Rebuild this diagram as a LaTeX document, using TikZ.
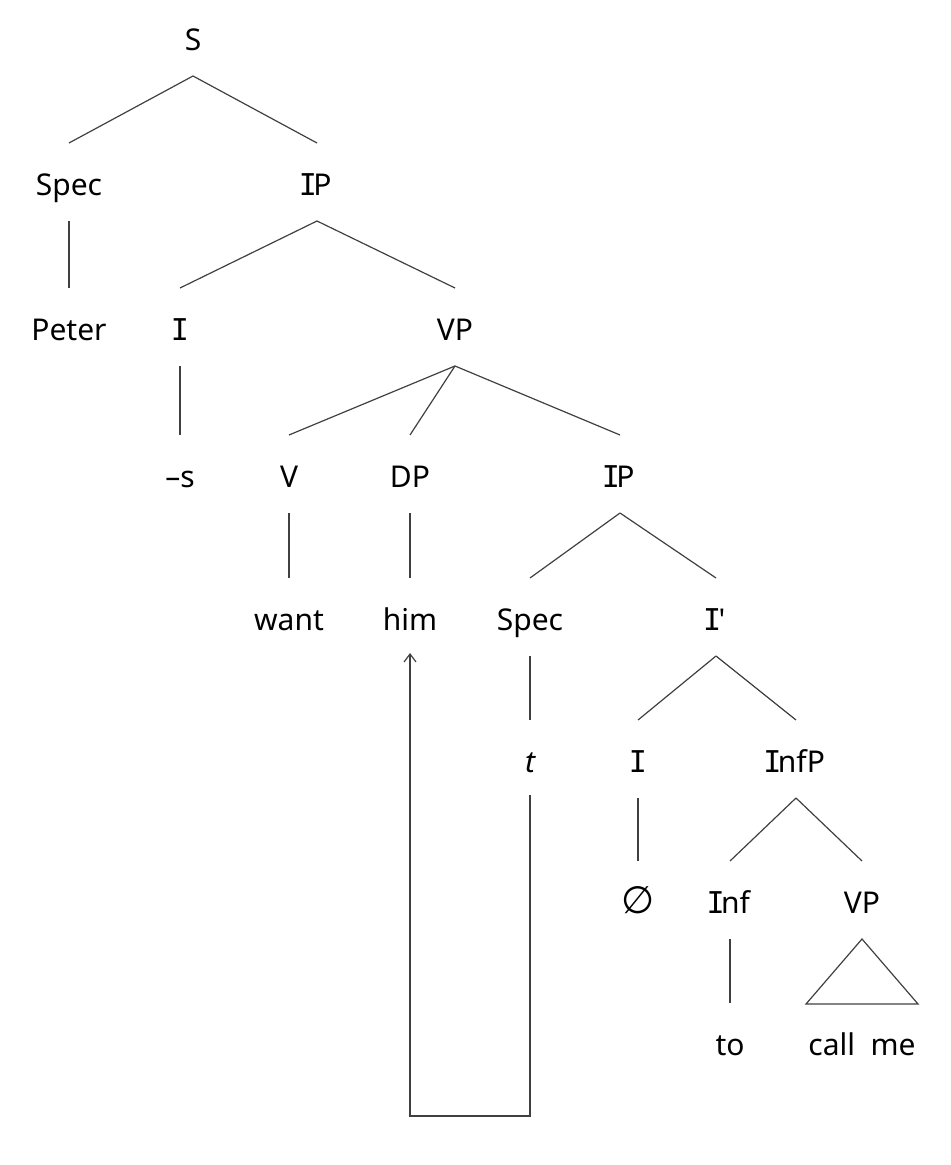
\documentclass[tikz,border=0pt]{standalone}
\usepackage{fontspec}
\usetikzlibrary{arrows.meta}
\setmainfont{Noto Sans}
\newfontfamily\symfont{DejaVu Sans}
\newfontfamily\monoI{DejaVu Sans Mono}
\newcommand\sI{\kern-1.8pt{\monoI I}\kern-1.8pt}
\newcommand\br[2]{\draw[branch] ([yshift=-18pt]#1.center) -- ([yshift=21pt]#2.center);}
\tikzset{
  lbl/.style={inner sep=0pt, text height=10.7pt, text depth=0pt, anchor=center,
    font=\fontsize{15}{18}\selectfont, text=black},
  branch/.style={draw=black!75, line width=0.6pt},
  movearrow/.style={draw=black!75, line width=0.6pt,
    -{Straight Barb[length=4pt,width=6pt]}}
}
\begin{document}
\begin{tikzpicture}[x=0.5pt,y=-0.5pt]
\useasboundingbox (0,0) rectangle (950,1165);
\node[lbl] (S) at (193,40) {S};
\node[lbl] (Spec1) at (69,185) {Spec};
\node[lbl] (IP1) at (317,185) {\sI P};
\node[lbl] (Peter) at (69,330) {Peter};
\node[lbl] (I1) at (180,330) {\sI};
\node[lbl] (VP1) at (455,330) {VP};
\node[lbl] (s) at (180,477) {–s};
\node[lbl] (V) at (289,477) {V};
\node[lbl] (DP) at (410,477) {DP};
\node[lbl] (IP2) at (620,477) {\sI P};
\node[lbl] (want) at (289,620) {want};
\node[lbl] (him) at (410,620) {him};
\node[lbl] (Spec2) at (530,620) {Spec};
\node[lbl] (Ibar) at (716,620) {\sI\kern0.6pt\textquotesingle};
\node[lbl] (t) at (530,762) {\itshape t};
\node[lbl] (I2) at (638,762) {\sI};
\node[lbl] (InfP) at (796,762) {\sI nfP};
\node[lbl] (null) at (638,903) {\fontsize{19}{20}\symfont ∅};
\node[lbl] (Inf) at (730,903) {\sI nf};
\node[lbl] (VP2) at (862,903) {VP};
\node[lbl] (to) at (730,1045) {to};
\node[lbl] (callme) at (862,1045) {call\ \ me};
\coordinate (bot) at (0,1116);

\br{S}{Spec1}
\br{S}{IP1}
\br{Spec1}{Peter}
\br{IP1}{I1}
\br{IP1}{VP1}
\br{I1}{s}
\br{VP1}{V}
\br{VP1}{DP}
\br{VP1}{IP2}
\br{V}{want}
\br{DP}{him}
\br{IP2}{Spec2}
\br{IP2}{Ibar}
\br{Spec2}{t}
\br{Ibar}{I2}
\br{Ibar}{InfP}
\br{I2}{null}
\br{InfP}{Inf}
\br{InfP}{VP2}
\br{Inf}{to}
\draw[branch] ([yshift=-18pt]VP2.center) -- ([xshift=-28pt,yshift=20.5pt]callme.center)
  -- ([xshift=28pt,yshift=20.5pt]callme.center) -- cycle;
\draw[movearrow] ([yshift=-16.5pt]t.center) -- (t |- bot) -- (him |- bot) -- ([yshift=-16.5pt]him.center);
\end{tikzpicture}
\end{document}
